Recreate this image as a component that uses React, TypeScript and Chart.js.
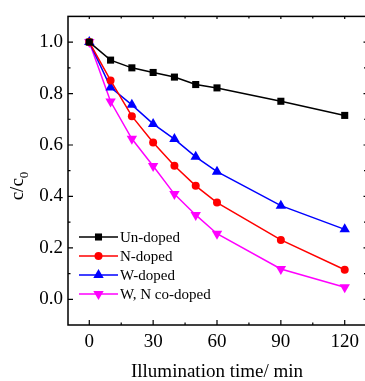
import React, { useEffect, useRef } from 'react';
import { Chart, registerables } from 'chart.js';

Chart.register(...registerables);

const times = [0, 10, 20, 30, 40, 50, 60, 90, 120];
const unDoped = [1.0, 0.93, 0.9, 0.882, 0.864, 0.835, 0.822, 0.77, 0.715];
const nDoped = [1.0, 0.851, 0.712, 0.61, 0.519, 0.441, 0.376, 0.231, 0.115];
const wDoped = [1.0, 0.824, 0.756, 0.682, 0.623, 0.554, 0.496, 0.364, 0.272];
const wnCoDoped = [1.0, 0.769, 0.624, 0.518, 0.409, 0.328, 0.255, 0.118, 0.047];
const seriesNames = ['Un-doped', 'N-doped', 'W-doped', 'W, N co-doped'];
const seriesColors = ['#000000', '#ff0000', '#0000ff', '#ff00ff'];
const xMajorTicks = [0, 30, 60, 90, 120];
const xMinorTicks = [15, 45, 75, 105];
const yMajorTicks = [0, 0.2, 0.4, 0.6, 0.8, 1.0];
const yMinorTicks = [0.1, 0.3, 0.5, 0.7, 0.9];
const xTitle = 'Illumination time/ min';
const yTitleMain = 'c/c';
const yTitleSub = '0';

const FONT = '"Liberation Serif", "DejaVu Serif", serif';

type Marker = { style: string; r: number; rot: number };
const markers: Marker[] = [
  { style: 'rect', r: 5, rot: 0 },
  { style: 'circle', r: 4, rot: 0 },
  { style: 'triangle', r: 6, rot: 0 },
  { style: 'triangle', r: 6, rot: 180 },
];

function drawMarker(ctx: CanvasRenderingContext2D, m: Marker, x: number, y: number, color: string) {
  ctx.save();
  ctx.fillStyle = color;
  ctx.beginPath();
  if (m.style === 'rect') {
    const s = m.r * Math.SQRT1_2;
    ctx.rect(x - s, y - s, 2 * s, 2 * s);
  } else if (m.style === 'circle') {
    ctx.arc(x, y, m.r, 0, Math.PI * 2);
  } else {
    const rad = (m.rot * Math.PI) / 180;
    for (let i = 0; i < 3; i++) {
      const a = rad + (i * 2 * Math.PI) / 3;
      const px = x + Math.sin(a) * m.r;
      const py = y - Math.cos(a) * m.r;
      if (i === 0) ctx.moveTo(px, py);
      else ctx.lineTo(px, py);
    }
    ctx.closePath();
  }
  ctx.fill();
  ctx.restore();
}

const framePlugin = {
  id: 'frame',
  afterDraw(chart: any) {
    const ctx: CanvasRenderingContext2D = chart.ctx;
    const { left, right, top, bottom } = chart.chartArea;
    const xs = chart.scales.x;
    const ys = chart.scales.y;
    ctx.save();
    ctx.strokeStyle = '#000';
    ctx.lineWidth = 1.5;
    ctx.strokeRect(left, top, right - left, bottom - top);
    ctx.lineWidth = 1.2;
    ctx.beginPath();
    const tick = (x1: number, y1: number, x2: number, y2: number) => {
      ctx.moveTo(x1, y1);
      ctx.lineTo(x2, y2);
    };
    xMajorTicks.forEach((v) => {
      const px = xs.getPixelForValue(v);
      tick(px, bottom, px, bottom - 5);
      tick(px, top, px, top + 2.5);
    });
    xMinorTicks.forEach((v) => {
      const px = xs.getPixelForValue(v);
      tick(px, bottom, px, bottom - 2.5);
      tick(px, top, px, top + 2);
    });
    yMajorTicks.forEach((v) => {
      const py = ys.getPixelForValue(v);
      tick(left, py, left + 5, py);
      tick(right, py, right - 2.5, py);
    });
    yMinorTicks.forEach((v) => {
      const py = ys.getPixelForValue(v);
      tick(left, py, left + 2.5, py);
      tick(right, py, right - 2, py);
    });
    ctx.stroke();

    // axis titles
    ctx.fillStyle = '#000';
    ctx.font = `19px ${FONT}`;
    ctx.textAlign = 'center';
    ctx.textBaseline = 'alphabetic';
    ctx.fillText(xTitle, (left + right) / 2, 377);

    ctx.save();
    ctx.translate(23, 186);
    ctx.rotate(-Math.PI / 2);
    ctx.font = `19px ${FONT}`;
    const wMain = ctx.measureText(yTitleMain).width;
    ctx.font = `13px ${FONT}`;
    const wSub = ctx.measureText(yTitleSub).width;
    const start = -(wMain + wSub) / 2;
    ctx.textAlign = 'left';
    ctx.font = `19px ${FONT}`;
    ctx.fillText(yTitleMain, start, 0);
    ctx.font = `13px ${FONT}`;
    ctx.fillText(yTitleSub, start + wMain, 5);
    ctx.restore();

    // legend
    chart.data.datasets.forEach((ds: any, i: number) => {
      const y = bottom - 88 + i * 19;
      const x0 = left + 11;
      const x1 = left + 50;
      ctx.strokeStyle = ds.borderColor;
      ctx.lineWidth = 1.5;
      ctx.beginPath();
      ctx.moveTo(x0, y);
      ctx.lineTo(x1, y);
      ctx.stroke();
      drawMarker(ctx, markers[i], (x0 + x1) / 2, y, ds.borderColor);
      ctx.fillStyle = '#000';
      ctx.font = `15px ${FONT}`;
      ctx.textAlign = 'left';
      ctx.textBaseline = 'middle';
      ctx.fillText(ds.label, x1 + 2, y + 1);
    });
    ctx.restore();
  },
};

export default function App() {
  const ref = useRef<HTMLCanvasElement | null>(null);
  useEffect(() => {
    if (!ref.current) return;
    const seriesValues = [unDoped, nDoped, wDoped, wnCoDoped];
    const chart = new Chart(ref.current, {
      type: 'scatter',
      data: {
        datasets: seriesValues.map((vals, i) => ({
          label: seriesNames[i],
          data: times.map((t, j) => ({ x: t, y: vals[j] })),
          showLine: true,
          borderColor: seriesColors[i],
          backgroundColor: seriesColors[i],
          borderWidth: 1.5,
          pointStyle: markers[i].style,
          pointRadius: markers[i].r,
          pointHoverRadius: markers[i].r,
          pointRotation: markers[i].rot,
          pointBorderWidth: 0,
          clip: false,
        })),
      },
      options: {
        responsive: false,
        animation: false,
        events: [],
        layout: { padding: { top: 13, right: 5, left: 0, bottom: 0 } },
        plugins: { legend: { display: false }, tooltip: { enabled: false } },
        scales: {
          x: {
            type: 'linear',
            min: -10,
            max: 130,
            grid: { display: false, drawTicks: false },
            border: { display: false },
            afterBuildTicks: (s: any) => {
              s.ticks = xMajorTicks.map((v) => ({ value: v }));
            },
            afterFit: (s: any) => {
              s.height = 56;
            },
            ticks: {
              color: '#000',
              padding: 6,
              maxRotation: 0,
              font: { family: FONT, size: 19 },
              callback: (v: any) => String(v),
            },
          },
          y: {
            type: 'linear',
            min: -0.1,
            max: 1.1,
            grid: { display: false, drawTicks: false },
            border: { display: false },
            afterBuildTicks: (s: any) => {
              s.ticks = yMajorTicks.map((v) => ({ value: v }));
            },
            afterFit: (s: any) => {
              s.width = 68;
            },
            ticks: {
              color: '#000',
              padding: 5,
              font: { family: FONT, size: 19 },
              callback: (v: any) => Number(v).toFixed(1),
            },
          },
        },
      },
      plugins: [framePlugin],
    } as any);
    return () => chart.destroy();
  }, []);
  return (
    <div style={{ position: 'fixed', left: 0, top: 0, width: 365, height: 381, overflow: 'hidden', background: '#fff' }}>
      <canvas ref={ref} width={372} height={381} style={{ display: 'block', width: 372, height: 381 }} />
    </div>
  );
}
